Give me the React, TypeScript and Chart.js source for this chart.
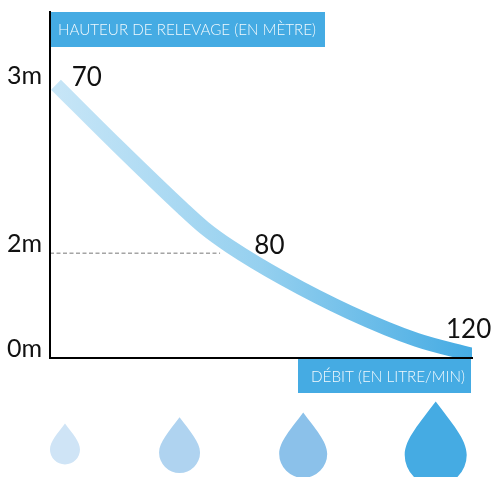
import React, { useEffect, useRef } from "react";
import { Chart, registerables } from "chart.js";

Chart.register(...registerables);

const curveX = [1.42, 15.8, 31.3, 36.5, 42.7, 55.2, 71.1, 86.9, 99.8, 103];
const curveY = [78.96, 61.5, 43.3, 37.6, 32.1, 22.9, 13.0, 5.1, 0.85, -0.2];
const guideX = [0, 40.3];
const guideY = [30.2, 30.2];
const tickValues = [0, 30.2, 78.9];
const tickLabels = ["0m", "2m", "3m"];
const pointLabels = ["70", "80", "120"];
const pointLabelX = [8.7, 52, 99.2];
const pointLabelY = [78.7, 30, 5.6];
const dropX = [3.55, 30.7, 60, 91.4];
const dropY = [-26.6, -27.5, -27.9, -28.2];
const dropRadius = [15, 20.5, 24, 31];
const dropColors = ["#cfe4f6", "#afd3f0", "#8bc1ea", "#45abe3"];
const yTitle = "HAUTEUR DE RELEVAGE (EN MÈTRE)";
const xTitle = "DÉBIT (EN LITRE/MIN)";
const BLUE = "#45abe3";
const FONT = "Lato";

const decorations = {
  id: "decorations",
  afterDatasetsDraw(chart: any) {
    const { ctx, scales } = chart;
    const x = scales.x;
    const y = scales.y;
    ctx.save();
    // axis title boxes
    ctx.fillStyle = BLUE;
    ctx.fillRect(51, 12, 274, 35);
    ctx.fillRect(298, 359, 173, 34);
    ctx.fillStyle = "#f2f9fd";
    ctx.font = `300 16px ${FONT}`;
    ctx.textAlign = "left";
    ctx.textBaseline = "alphabetic";
    ctx.fillText(yTitle, 58, 35, 258);
    ctx.fillText(xTitle, 311, 382, 154);
    // value labels
    ctx.fillStyle = "#111";
    ctx.font = `400 26px ${FONT}`;
    ctx.textAlign = "center";
    pointLabels.forEach((t, i) => {
      ctx.fillText(t, x.getPixelForValue(pointLabelX[i]), y.getPixelForValue(pointLabelY[i]));
    });
    // drops
    dropRadius.forEach((r, i) => {
      const cx = x.getPixelForValue(dropX[i]);
      const cy = y.getPixelForValue(dropY[i]);
      const tip = cy - r * 1.72;
      ctx.fillStyle = dropColors[i];
      ctx.beginPath();
      ctx.moveTo(cx, tip);
      ctx.bezierCurveTo(cx + r * 0.5, cy - r * 1.05, cx + r, cy - r * 0.5, cx + r, cy);
      ctx.arc(cx, cy, r, 0, Math.PI);
      ctx.bezierCurveTo(cx - r, cy - r * 0.5, cx - r * 0.5, cy - r * 1.05, cx, tip);
      ctx.closePath();
      ctx.fill();
    });
    ctx.restore();
  },
};

export default function App() {
  const ref = useRef<HTMLCanvasElement>(null);
  useEffect(() => {
    const chart = new Chart(ref.current!, {
      type: "line",
      plugins: [decorations],
      data: {
        datasets: [
          {
            data: curveX.map((x, i) => ({ x, y: curveY[i] })),
            borderWidth: 14,
            borderCapStyle: "butt",
            pointRadius: 0,
            cubicInterpolationMode: "monotone",
            clip: 0,
            borderColor: (c: any) => {
              const a = c.chart.chartArea;
              if (!a) return BLUE;
              const g = c.chart.ctx.createLinearGradient(a.left, 0, a.right, 0);
              g.addColorStop(0, "#c8e6f7");
              g.addColorStop(0.5, "#95d0ef");
              g.addColorStop(1, BLUE);
              return g;
            },
          },
          {
            data: guideX.map((x, i) => ({ x, y: guideY[i] })),
            borderWidth: 1,
            borderColor: "#777",
            borderDash: [4, 2.5],
            pointRadius: 0,
          },
        ],
      } as any,
      options: {
        animation: false,
        responsive: false,
        devicePixelRatio: 1,
        layout: { padding: { top: 12, right: 19, bottom: 119.5, left: 0 } },
        plugins: { legend: { display: false }, tooltip: { enabled: false } },
        scales: {
          x: {
            type: "linear",
            min: 0,
            max: 100,
            afterFit: (s: any) => {
              s.height = 0;
              s.paddingLeft = 0;
              s.paddingRight = 0;
            },
            grid: { display: false },
            border: { color: "#000", width: 2, z: 1 },
            ticks: { display: false },
          },
          y: {
            type: "linear",
            min: 0,
            max: 100,
            afterFit: (s: any) => {
              s.width = 50;
              s.paddingTop = 0;
              s.paddingBottom = 0;
            },
            afterBuildTicks: (s: any) => { s.ticks = tickValues.map((value) => ({ value })); },
            grid: { display: false, drawTicks: false },
            border: { color: "#000", width: 2, z: 1 },
            ticks: {
              autoSkip: false,
              padding: 8,
              labelOffset: -9,
              color: "#111",
              font: { family: FONT, size: 25, weight: "400" },
              callback: (v: any) => tickLabels[tickValues.indexOf(v)],
            },
          },
        },
      } as any,
    });
    return () => chart.destroy();
  }, []);
  return (
    <div style={{ position: "fixed", left: 0, top: 0 }}>
      <canvas ref={ref} width={491} height={477} style={{ display: "block" }} />
    </div>
  );
}
